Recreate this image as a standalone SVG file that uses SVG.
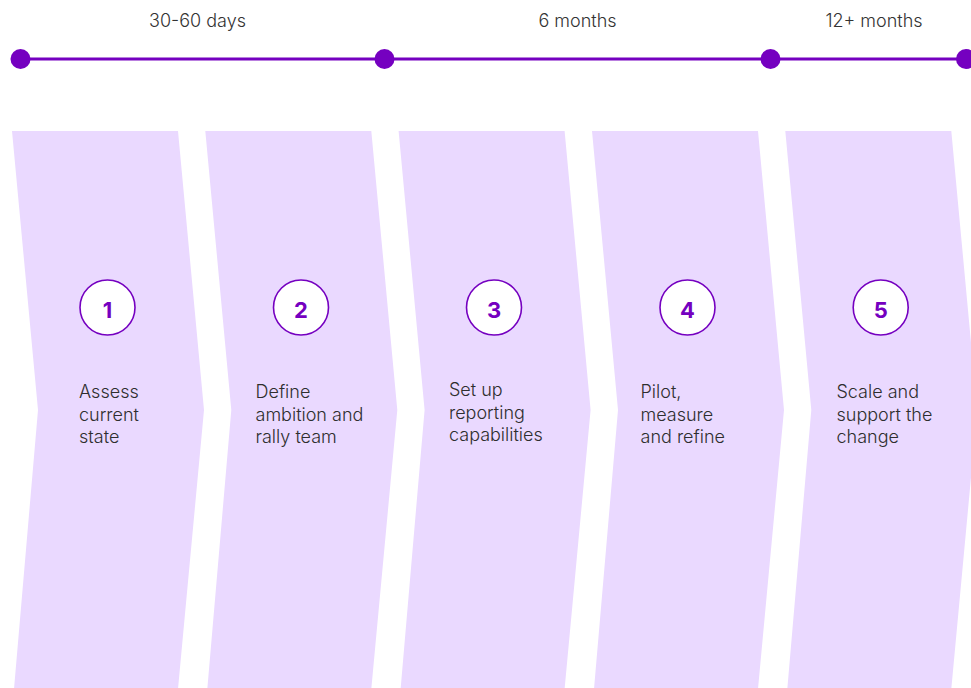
<svg xmlns="http://www.w3.org/2000/svg" width="971" height="688" viewBox="0 0 971 688">
<defs>
<style>
.chev{fill:#EAD9FF;}
.ring{fill:#FFFFFF;stroke:#7500C0;stroke-width:1.6;}
.num{font-family:Inter,"Liberation Sans",sans-serif;font-size:22px;font-weight:700;fill:#7500C0;text-anchor:middle;}
.lbl{font-family:Inter,"Liberation Sans",sans-serif;font-size:18px;font-weight:300;fill:#2E2E2E;}
.tl{font-family:Inter,"Liberation Sans",sans-serif;font-size:18px;font-weight:300;fill:#333333;text-anchor:middle;}
.dot{fill:#7500C0;}
</style>
<path id="chevShape" d="M0,131 L166,131 L192,410 L166,689 L2,689 L26,410 Z"/>
</defs>
<rect width="971" height="688" fill="#FFFFFF"/>
<g id="timeline">
<line x1="20" y1="59" x2="971" y2="59" stroke="#7500C0" stroke-width="3"/>
<circle class="dot" cx="20.5" cy="59" r="10"/>
<circle class="dot" cx="384.5" cy="59" r="10"/>
<circle class="dot" cx="770.5" cy="59" r="10"/>
<circle class="dot" cx="966" cy="59" r="10"/>
<text class="tl" x="197.5" y="27">30-60 days</text>
<text class="tl" x="577.5" y="27">6 months</text>
<text class="tl" x="874" y="27">12+ months</text>
</g>
<g id="connectors"></g>
<g id="step1">
<use href="#chevShape" class="chev" transform="translate(12,0)"/>
<circle class="ring" cx="107.5" cy="307.5" r="27.5"/>
<text class="num" x="107.5" y="317.5">1</text>
<text class="lbl" x="79" y="398"><tspan x="79">Assess</tspan><tspan x="79" dy="22.5">current</tspan><tspan x="79" dy="22.5">state</tspan></text>
</g>
<g id="step2">
<use href="#chevShape" class="chev" transform="translate(205.3,0)"/>
<circle class="ring" cx="301" cy="307.5" r="27.5"/>
<text class="num" x="301" y="317.5">2</text>
<text class="lbl" x="255.5" y="398"><tspan x="255.5">Define</tspan><tspan x="255.5" dy="22.5">ambition and</tspan><tspan x="255.5" dy="22.5">rally team</tspan></text>
</g>
<g id="step3">
<use href="#chevShape" class="chev" transform="translate(398.6,0)"/>
<circle class="ring" cx="494" cy="307.5" r="27.5"/>
<text class="num" x="494" y="317.5">3</text>
<text class="lbl" x="449" y="396"><tspan x="449">Set up</tspan><tspan x="449" dy="22.5">reporting</tspan><tspan x="449" dy="22.5">capabilities</tspan></text>
</g>
<g id="step4">
<use href="#chevShape" class="chev" transform="translate(592,0)"/>
<circle class="ring" cx="687.5" cy="307.5" r="27.5"/>
<text class="num" x="687.5" y="317.5">4</text>
<text class="lbl" x="640.5" y="398"><tspan x="640.5">Pilot,</tspan><tspan x="640.5" dy="22.5">measure</tspan><tspan x="640.5" dy="22.5">and refine</tspan></text>
</g>
<g id="step5">
<use href="#chevShape" class="chev" transform="translate(785.3,0)"/>
<circle class="ring" cx="880.7" cy="307.5" r="27.5"/>
<text class="num" x="880.7" y="317.5">5</text>
<text class="lbl" x="836.5" y="398"><tspan x="836.5">Scale and</tspan><tspan x="836.5" dy="22.5">support the</tspan><tspan x="836.5" dy="22.5">change</tspan></text>
</g>
</svg>
